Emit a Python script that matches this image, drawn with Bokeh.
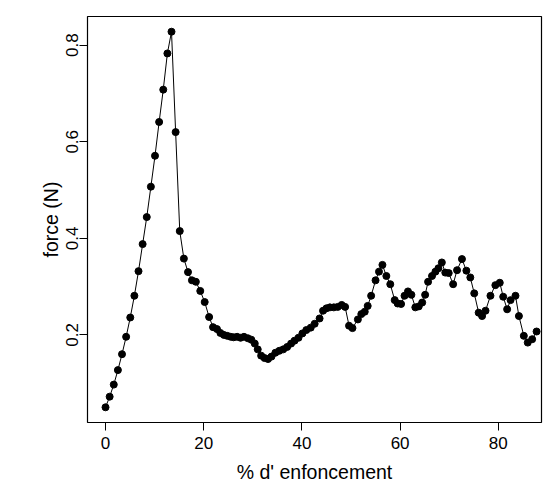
from bokeh.plotting import figure
from bokeh.models import FixedTicker, Range1d
from bokeh.embed import file_html
from bokeh.resources import INLINE

# % d' enfoncement (penetration percentage)
pct = [0.0, 0.84, 1.68, 2.52, 3.36, 4.2, 5.04, 5.88, 6.72, 7.56, 8.4, 9.24,
       10.08, 10.92, 11.76, 12.6, 13.44, 14.28, 15.12, 15.96, 16.8, 17.6, 18.4,
       19.3, 20.2, 21.1, 21.9, 22.7, 23.4, 24.1, 24.8, 25.5, 26.1, 26.8, 27.5,
       28.2, 29.0, 29.7, 30.4, 31.0, 31.7, 32.4, 33.1, 33.8, 34.6, 35.4, 36.2,
       37.0, 37.8, 38.5, 39.3, 40.1, 40.9, 41.8, 42.6, 43.6, 44.3, 45.0, 45.7,
       46.5, 47.3, 48.1, 48.8, 49.6, 50.3, 51.4, 52.1, 52.8, 53.4, 54.1, 55.0,
       55.7, 56.4, 57.2, 58.0, 58.9, 59.5, 60.2, 60.9, 61.6, 62.3, 63.1, 63.8,
       64.5, 65.1, 65.7, 66.5, 67.2, 67.8, 68.5, 69.2, 69.9, 70.8, 71.6, 72.6,
       73.5, 74.3, 75.1, 76.0, 76.7, 77.4, 78.4, 79.4, 80.3, 81.0, 81.8, 82.5,
       83.5, 84.2, 85.2, 86.0, 86.9, 87.8]

# force (N)
force = [0.050, 0.072, 0.097, 0.127, 0.160, 0.196, 0.236, 0.281, 0.332, 0.388,
         0.444, 0.507, 0.571, 0.641, 0.708, 0.783, 0.828, 0.620, 0.415, 0.358,
         0.330, 0.313, 0.310, 0.291, 0.268, 0.237, 0.216, 0.212, 0.204, 0.200,
         0.198, 0.196, 0.195, 0.196, 0.194, 0.196, 0.193, 0.190, 0.182, 0.170,
         0.157, 0.152, 0.150, 0.155, 0.163, 0.167, 0.170, 0.175, 0.182, 0.188,
         0.194, 0.203, 0.210, 0.215, 0.223, 0.234, 0.250, 0.255, 0.257, 0.257,
         0.258, 0.262, 0.258, 0.219, 0.214, 0.232, 0.243, 0.248, 0.260, 0.281,
         0.313, 0.331, 0.345, 0.322, 0.305, 0.272, 0.265, 0.264, 0.281, 0.290,
         0.283, 0.257, 0.259, 0.267, 0.283, 0.310, 0.322, 0.331, 0.338, 0.350,
         0.329, 0.328, 0.305, 0.334, 0.357, 0.333, 0.319, 0.286, 0.246, 0.239,
         0.250, 0.281, 0.303, 0.308, 0.279, 0.253, 0.272, 0.281, 0.239, 0.198,
         0.184, 0.191, 0.207]

x_ticks = [0, 20, 40, 60, 80]
y_ticks = [0.2, 0.4, 0.6, 0.8]

FONT = "Liberation Sans"

p = figure(width=545, height=487, output_backend="svg", toolbar_location=None,
           x_range=Range1d(-3.67, 88.8), y_range=Range1d(0.0185, 0.8595),
           min_border_left=87, min_border_right=4, min_border_top=16,
           min_border_bottom=65,
           x_axis_label="% d' enfoncement", y_axis_label="force (N)")

p.background_fill_color = "white"
p.border_fill_color = "white"
p.outline_line_color = "black"
p.outline_line_width = 1.2
p.grid.visible = False

p.xaxis.ticker = FixedTicker(ticks=x_ticks)
p.yaxis.ticker = FixedTicker(ticks=y_ticks)

for ax in (p.xaxis[0], p.yaxis[0]):
    ax.axis_line_color = None
    ax.major_tick_line_color = "black"
    ax.major_tick_line_width = 1
    ax.major_tick_in = 0
    ax.major_tick_out = 8
    ax.minor_tick_line_color = None
    ax.major_label_text_font = FONT
    ax.major_label_text_font_size = "17px"
    ax.major_label_text_color = "black"
    ax.axis_label_text_font = FONT
    ax.axis_label_text_font_size = "19.5px"
    ax.axis_label_text_font_style = "normal"
    ax.axis_label_text_color = "black"

p.xaxis.major_label_standoff = 6
p.xaxis.axis_label_standoff = 9
p.yaxis.major_label_orientation = "vertical"
p.yaxis.major_label_standoff = 1
p.yaxis.axis_label_standoff = 2

p.line(pct, force, line_color="black", line_width=1)
p.scatter(pct, force, size=7, fill_color="black", line_color="black")

open("out.html", "w").write(file_html(p, INLINE))
